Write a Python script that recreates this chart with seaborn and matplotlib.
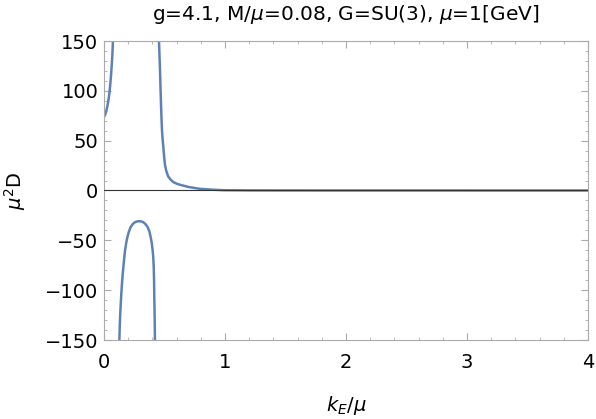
import matplotlib
matplotlib.use("Agg")
import matplotlib.pyplot as plt
import seaborn as sns
import pandas as pd
from matplotlib.ticker import MultipleLocator

# Branch 1 (0 -> first pole)
b1_x = [0.0, 0.008, 0.016, 0.025, 0.033, 0.042, 0.05, 0.057, 0.063, 0.069, 0.074]
b1_y = [74, 75.5, 78.5, 83, 88, 95, 104, 114, 124, 136, 150]
# Branch 2 (negative arc between poles)
b2_x = [0.127, 0.130, 0.133, 0.137, 0.140, 0.145, 0.150, 0.155, 0.160, 0.167, 0.174,
        0.183, 0.193, 0.205, 0.220, 0.238, 0.256, 0.275, 0.292, 0.310, 0.325,
        0.345, 0.361, 0.375, 0.386, 0.395, 0.402, 0.407, 0.411, 0.414, 0.416,
        0.419, 0.421]
b2_y = [-150, -137, -127, -117, -110, -100, -91, -83.5, -77, -68, -60,
        -53, -47, -41.5, -36.8, -33.6, -31.8, -31.0, -30.8, -31.1, -31.8,
        -34, -36.8, -41, -47, -53, -60, -67, -77, -92, -110,
        -130, -150]
# Branch 3 (decaying tail)
b3_x = [0.4545, 0.459, 0.463, 0.467, 0.471, 0.475, 0.479, 0.484, 0.490, 0.497,
        0.504, 0.515, 0.531, 0.55, 0.573, 0.60, 0.628, 0.70, 0.79, 0.9, 0.99,
        1.2, 1.5, 2.0, 3.0, 4.0]
b3_y = [150, 134, 121, 103, 87.6, 73, 61, 52, 44, 34,
        25.8, 19.5, 14, 11, 8.4, 6.9, 5.7, 3.5, 1.7, 0.8, 0.3,
        0.1, 0.05, 0.02, 0.01, 0.0]

title = "g=4.1, M/$\\mu$=0.08, G=SU(3), $\\mu$=1[GeV]"
xlabel = "$k_E/\\mu$"
ylabel = "$\\mu^2$D"
x_ticks = [0, 1, 2, 3, 4]
y_ticks = [-150, -100, -50, 0, 50, 100, 150]

sns.set_style("ticks")
plt.rcParams['font.family'] = ['DejaVu Sans']
plt.rcParams['text.color'] = 'black'
plt.rcParams['axes.labelcolor'] = 'black'
plt.rcParams['mathtext.fontset'] = 'custom'
plt.rcParams['mathtext.rm'] = 'DejaVu Sans'
plt.rcParams['mathtext.it'] = 'DejaVu Sans:italic'
plt.rcParams['mathtext.bf'] = 'DejaVu Sans:bold'

fig = plt.figure(figsize=(5.96, 4.19), dpi=100)
ax = fig.add_axes([104/596, 1-340/419, (588-104)/596, (340-41)/419])

color = "#5E81B5"
for bx, by in [(b1_x, b1_y), (b2_x, b2_y), (b3_x, b3_y)]:
    df = pd.DataFrame({"x": bx, "y": by})
    sns.lineplot(data=df, x="x", y="y", ax=ax, color=color, lw=1.8, sort=False)

ax.axhline(0, color="0.2", lw=0.8, zorder=5)

ax.set_xlim(0, 4)
ax.set_ylim(-150, 150)
ax.set_xticks(x_ticks)
ax.set_yticks(y_ticks)
ax.set_xticklabels([str(t) for t in x_ticks])
ax.set_yticklabels([str(t).replace('-', '\u2212') for t in y_ticks])
ax.xaxis.set_minor_locator(MultipleLocator(0.2))
ax.yaxis.set_minor_locator(MultipleLocator(10))
ax.tick_params(which='both', direction='in', top=True, right=True,
               color='#aaaaaa', labelsize=14, labelcolor='black')
ax.tick_params(axis='x', which='major', pad=9)
ax.tick_params(axis='y', which='major', pad=4)
ax.tick_params(which='major', length=5, width=0.8)
ax.tick_params(which='minor', length=2.5, width=0.6)
for s in ax.spines.values():
    s.set_visible(True)
    s.set_color('#aaaaaa')
    s.set_linewidth(0.8)

ax.set_xlabel(xlabel, fontsize=14, labelpad=16)
ax.set_ylabel(ylabel, fontsize=14, labelpad=12)
ax.set_title(title, fontsize=14.5, pad=15)

fig.savefig("out.png", dpi=100)
